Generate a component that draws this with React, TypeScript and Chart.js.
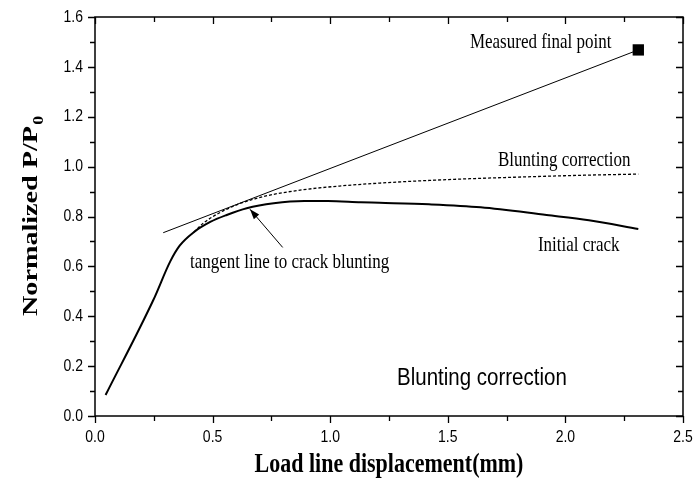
import React, { useEffect, useRef } from "react";
import { Chart, registerables } from "chart.js";

Chart.register(...registerables);

// ---- data ----
const crackX = [0.045, 0.248, 0.32, 0.36, 0.42, 0.49, 0.56, 0.645, 0.76, 0.89, 0.99, 1.13, 1.21, 1.42, 1.64, 1.92, 2.1, 2.31];
const crackY = [0.084, 0.465, 0.62, 0.683, 0.737, 0.778, 0.806, 0.833, 0.853, 0.862, 0.862, 0.857, 0.855, 0.849, 0.837, 0.806, 0.785, 0.75];

const bluntX = [0.42, 0.46, 0.52, 0.6, 0.68, 0.76, 0.9, 1.05, 1.21, 1.5, 1.8, 2.1, 2.31];
const bluntY = [0.737, 0.773, 0.81, 0.846, 0.871, 0.889, 0.909, 0.923, 0.934, 0.948, 0.958, 0.966, 0.97];

const tangentX = [0.29, 2.31];
const tangentY = [0.735, 1.468];

const finalX = [2.31];
const finalY = [1.468];

// arrow: tail then tip
const arrowX = [0.798, 0.659];
const arrowY = [0.676, 0.829];

const xTickValues = [0, 0.5, 1.0, 1.5, 2.0, 2.5];
const yTickValues = [0, 0.2, 0.4, 0.6, 0.8, 1.0, 1.2, 1.4, 1.6];

const SERIF = "'Liberation Serif', 'Times New Roman', serif";
const SANS = "'Liberation Sans', Arial, sans-serif";

// vertical stretch of text seen in the reference
const K = 1.2;

const annotations = [
  { text: "Measured final point", x: 1.594, y: 1.496, font: `17px ${SERIF}` },
  { text: "Blunting correction", x: 1.713, y: 1.026, font: `17px ${SERIF}` },
  { text: "Initial crack", x: 1.883, y: 0.682, font: `17px ${SERIF}` },
  { text: "tangent line to crack blunting", x: 0.404, y: 0.613, font: `17px ${SERIF}` },
  { text: "Blunting correction", x: 1.284, y: 0.152, font: `20.5px ${SANS}` },
];

const pts = (xs: number[], ys: number[]) => xs.map((x, i) => ({ x, y: ys[i] }));

function drawText(ctx: any, text: string, x: number, y: number, font: string, align: string, k: number) {
  ctx.save();
  ctx.translate(x, y);
  ctx.scale(1, k);
  ctx.font = font;
  ctx.textAlign = align;
  ctx.textBaseline = "middle";
  ctx.fillText(text, 0, 0);
  ctx.restore();
}

const framePlugin = {
  id: "framePlugin",
  afterDatasetsDraw(chart: any) {
    const { ctx, chartArea: a, scales } = chart;
    const xs = scales.x;
    const ys = scales.y;
    ctx.save();
    ctx.strokeStyle = "#000";
    ctx.fillStyle = "#000";

    // frame
    ctx.lineWidth = 1.5;
    ctx.strokeRect(a.left, a.top, a.right - a.left, a.bottom - a.top);

    // ticks
    ctx.lineWidth = 1.3;
    ctx.beginPath();
    for (let i = 0; i <= 10; i++) {
      const v = i * 0.25;
      const px = Math.round(xs.getPixelForValue(v)) + 0.5;
      const major = i % 2 === 0;
      const len = major ? 7 : 5;
      ctx.moveTo(px, a.bottom);
      ctx.lineTo(px, a.bottom + len);
      ctx.moveTo(px, a.top);
      ctx.lineTo(px, a.top + len);
    }
    for (let i = 0; i <= 16; i++) {
      const v = i * 0.1;
      const py = Math.round(ys.getPixelForValue(v)) + 0.5;
      const major = i % 2 === 0;
      const len = major ? 7 : 5;
      ctx.moveTo(a.left, py);
      ctx.lineTo(a.left - len, py);
      ctx.moveTo(a.right, py);
      ctx.lineTo(a.right - len, py);
    }
    ctx.stroke();

    // tick labels
    const tickFont = `14px ${SANS}`;
    for (const v of xTickValues) {
      drawText(ctx, v.toFixed(1), xs.getPixelForValue(v), a.bottom + 21, tickFont, "center", K);
    }
    for (const v of yTickValues) {
      drawText(ctx, v.toFixed(1), a.left - 12, ys.getPixelForValue(v), tickFont, "right", K);
    }

    // arrow head
    const tx = xs.getPixelForValue(arrowX[1]);
    const ty = ys.getPixelForValue(arrowY[1]);
    const sx = xs.getPixelForValue(arrowX[0]);
    const sy = ys.getPixelForValue(arrowY[0]);
    const ang = Math.atan2(ty - sy, tx - sx);
    const L = 10;
    const W = 3.5;
    ctx.beginPath();
    ctx.moveTo(tx, ty);
    ctx.lineTo(tx - L * Math.cos(ang) + W * Math.sin(ang), ty - L * Math.sin(ang) - W * Math.cos(ang));
    ctx.lineTo(tx - L * Math.cos(ang) - W * Math.sin(ang), ty - L * Math.sin(ang) + W * Math.cos(ang));
    ctx.closePath();
    ctx.fill();

    // annotations
    for (const an of annotations) {
      drawText(ctx, an.text, xs.getPixelForValue(an.x), ys.getPixelForValue(an.y), an.font, "left", K);
    }

    // x title
    drawText(ctx, "Load line displacement(mm)", (a.left + a.right) / 2, 465, `bold 22px ${SERIF}`, "center", K);

    // y title with subscript (stretched along its length)
    ctx.save();
    ctx.translate(31, (a.top + a.bottom) / 2);
    ctx.rotate(-Math.PI / 2);
    ctx.scale(1.28, 1);
    const main = "Normalized P/P";
    ctx.font = `bold 22px ${SERIF}`;
    const w1 = ctx.measureText(main).width;
    ctx.font = `bold 14px ${SERIF}`;
    const w2 = ctx.measureText("0").width;
    const total = w1 + w2;
    ctx.textAlign = "left";
    ctx.textBaseline = "middle";
    ctx.font = `bold 22px ${SERIF}`;
    ctx.fillText(main, -total / 2, 0);
    ctx.font = `bold 14px ${SERIF}`;
    ctx.fillText("0", -total / 2 + w1 + 1, 8);
    ctx.restore();

    ctx.restore();
  },
};

export default function App() {
  const ref = useRef<HTMLCanvasElement | null>(null);
  useEffect(() => {
    document.body.style.margin = "0";
    const canvas = ref.current!;
    const chart = new Chart(canvas, {
      type: "line",
      data: {
        datasets: [
          {
            data: pts(crackX, crackY),
            borderColor: "#000",
            borderWidth: 2,
            pointRadius: 0,
            cubicInterpolationMode: "monotone",
          },
          {
            data: pts(bluntX, bluntY),
            borderColor: "#000",
            borderWidth: 1.3,
            borderDash: [3, 2],
            pointRadius: 0,
            cubicInterpolationMode: "monotone",
          },
          {
            data: pts(tangentX, tangentY),
            borderColor: "#000",
            borderWidth: 1,
            pointRadius: 0,
          },
          {
            data: pts(finalX, finalY),
            showLine: false,
            pointStyle: "rect",
            pointRadius: 8,
            backgroundColor: "#000",
            borderColor: "#000",
            borderWidth: 0,
          },
          {
            data: pts(arrowX, arrowY),
            borderColor: "#000",
            borderWidth: 1,
            pointRadius: 0,
          },
        ],
      } as any,
      options: {
        responsive: false,
        animation: false,
        devicePixelRatio: 1,
        layout: { padding: { left: 0, right: 10, top: 17, bottom: 0 } },
        plugins: { legend: { display: false }, tooltip: { enabled: false } },
        scales: {
          x: {
            type: "linear",
            min: 0,
            max: 2.5,
            afterFit: (s: any) => {
              s.height = 63;
            },
            grid: { display: false, drawTicks: false },
            border: { display: false },
            ticks: { display: false },
          },
          y: {
            type: "linear",
            min: 0,
            max: 1.6,
            afterFit: (s: any) => {
              s.width = 95;
            },
            grid: { display: false, drawTicks: false },
            border: { display: false },
            ticks: { display: false },
          },
        },
      } as any,
      plugins: [framePlugin],
    });
    return () => chart.destroy();
  }, []);
  return (
    <div style={{ width: 693, height: 479, background: "#fff" }}>
      <canvas ref={ref} width={693} height={479} style={{ display: "block", width: 693, height: 479 }} />
    </div>
  );
}
